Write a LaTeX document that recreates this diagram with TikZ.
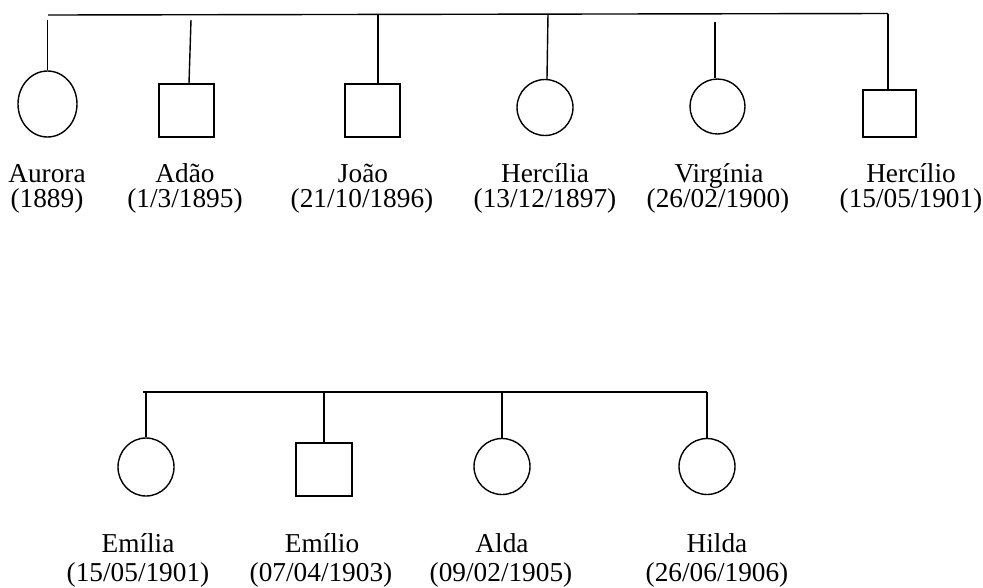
\documentclass[tikz,border=0pt]{standalone}
\usepackage{fontspec}
\setmainfont{Liberation Serif}
\usetikzlibrary{shapes.geometric}
\begin{document}
\begin{tikzpicture}[x=1pt,y=-1pt,
  line width=1.4pt,
  fem/.style={draw, ellipse, inner sep=0pt, minimum width=56pt, minimum height=56pt},
  masc/.style={draw, rectangle, inner sep=0pt, minimum width=55pt, minimum height=53pt},
  lbl/.style={anchor=base, inner sep=0pt, font=\fontsize{27.3}{30}\selectfont}]
\useasboundingbox (0,0) rectangle (983,587);
% ---------- first generation ----------
\coordinate (tl) at (48,15);
\coordinate (tr) at (888,13.5);
\draw (tl) -- (tr);

\node[fem, minimum width=59pt, minimum height=66pt] (aurora) at (47.5,104) {};
\node[masc] (adao) at (186.5,110.5) {};
\node[masc] (joao) at (372.5,110.5) {};
\node[fem] (hercilia) at (545,107.5) {};
\node[fem, minimum width=55pt, minimum height=55pt] (virginia) at (717.5,106.5) {};
\node[masc, minimum width=53pt, minimum height=47pt] (hercilio) at (889.5,113.5) {};

\coordinate (ta) at (47.5,20);
\coordinate (tb) at (191,20);
\coordinate (tj) at (378,14.3);
\coordinate (th) at (548,14);
\coordinate (tv) at (715,22);

\draw (ta) -- (aurora.north);
\draw (tb) -- ([xshift=2.5pt]adao.north);
\draw (tj) -- (tj |- joao.north);
\draw (th) -- ([xshift=2pt]hercilia.north);
\draw (tv) -- ([xshift=-2.5pt]virginia.north);
\draw (tr) -- (tr |- hercilio.north);

\node[lbl] (n1) at (47,182) {Aurora};
\node[lbl] (d1) at (47,207) {(1889)};
\node[lbl] (n2) at (185,182) {Adão};
\node[lbl] (d2) at (185,207) {(1/3/1895)};
\node[lbl] (n3) at (363,182) {João};
\node[lbl] (d3) at (362,207) {(21/10/1896)};
\node[lbl] (n4) at (545,182) {Hercília};
\node[lbl] (d4) at (545,207) {(13/12/1897)};
\node[lbl] (n5) at (719,182) {Virgínia};
\node[lbl] (d5) at (718,207) {(26/02/1900)};
\node[lbl] (n6) at (911,182) {Hercílio};
\node[lbl] (d6) at (911,207) {(15/05/1901)};

% ---------- second group ----------
\coordinate (bl) at (143,392);
\coordinate (br) at (707,392);
\draw (bl) -- (br);

\node[fem, minimum width=56pt, minimum height=58pt] (emilia) at (146,467) {};
\node[masc, minimum width=56pt, minimum height=53pt] (emilio) at (324,469.5) {};
\node[fem] (alda) at (502,466.5) {};
\node[fem] (hilda) at (707,466.5) {};

\coordinate (be) at (146,392);
\coordinate (bo) at (324,392);
\coordinate (ba) at (502,392);

\draw (be) -- (emilia.north);
\draw (bo) -- (emilio.north);
\draw (ba) -- (alda.north);
\draw (br) -- (hilda.north);

\node[lbl] (n7) at (138,552) {Emília};
\node[lbl] (d7) at (138,581) {(15/05/1901)};
\node[lbl] (n8) at (322,552) {Emílio};
\node[lbl] (d8) at (321,581) {(07/04/1903)};
\node[lbl] (n9) at (502,552) {Alda};
\node[lbl] (d9) at (501,581) {(09/02/1905)};
\node[lbl] (n10) at (717,552) {Hilda};
\node[lbl] (d10) at (717,581) {(26/06/1906)};
\end{tikzpicture}
\end{document}
